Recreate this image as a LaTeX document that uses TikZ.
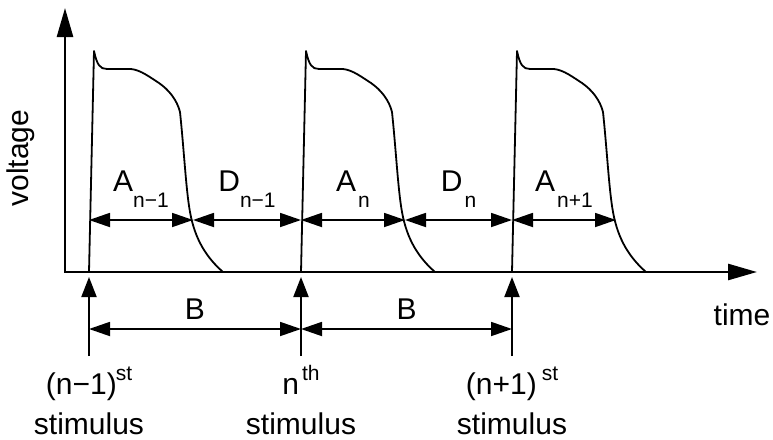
\documentclass[tikz,border=0pt]{standalone}
\usepackage{fontspec}
\setmainfont{Liberation Sans}
\usetikzlibrary{arrows.meta}

\newcommand\lowidx[1]{\raisebox{-16pt}{\fontsize{21}{21}\selectfont #1}}
\newcommand\highidx[1]{\raisebox{14pt}{\fontsize{21}{21}\selectfont #1}}

\begin{document}
\begin{tikzpicture}[
  x=1pt, y=-1pt,
  font=\fontsize{30}{35}\selectfont,
  axisline/.style={
    line width=2.6pt,
    {Triangle[length=29pt,width=16pt]}-{Triangle[length=29pt,width=16pt]}
  },
  curve/.style={line width=1.8pt, line join=round},
  span/.style={
    line width=1.8pt,
    {Triangle[length=21pt,width=14pt]}-{Triangle[length=21pt,width=14pt]}
  },
  trigger/.style={line width=2pt, -{Triangle[length=20pt,width=15pt]}}
]
  \useasboundingbox (0,0) rectangle (773,439);

  % Axes
  \coordinate (O) at (65,272);
  \coordinate (ytip) at (65,8);
  \coordinate (xtip) at (757,272);
  \draw[axisline] (ytip) -- (O) -- (xtip);
  \node[rotate=90, anchor=base] (vlab) at (28,158) {voltage};
  \node[anchor=base] (tlab) at (742,325) {time};

  % Rows used by the spans and the labels
  \coordinate (arow) at (0,220);
  \coordinate (brow) at (0,329);
  \coordinate (stip) at (0,277);
  \coordinate (sbot) at (0,356);
  \coordinate (lrow) at (0,394);
  \coordinate (wrow) at (0,434);

  % Action potentials
  \foreach \x [count=\i] in {89,301,512} {
    \coordinate (s\i) at (\x,272);
    \coordinate (e\i) at (\x+104,220);
    \draw[curve, xshift=\x pt] (0,272) -- (5,51)
      .. controls (8,65) and (11,69) .. (18,69) -- (42,69)
      .. controls (52,70) and (62,78) .. (70,83)
      .. controls (80,90) and (88,100) .. (91,112)
      .. controls (95,150) and (97,190) .. (101,212)
      .. controls (106,240) and (118,258) .. (134,272);
    \draw[trigger] (s\i |- sbot) -- (s\i |- stip);
  }

  % Durations and intervals
  \draw[span] (s1 |- arow) -- (e1)
    node[midway, anchor=base, yshift=29pt] (a1) {A\lowidx{n−1}};
  \draw[span] (e1) -- (s2 |- arow)
    node[midway, anchor=base, yshift=29pt] (d1) {D\lowidx{n−1}};
  \draw[span] (s2 |- arow) -- (e2)
    node[midway, anchor=base, yshift=29pt] (a2) {A\kern2pt\lowidx{n}};
  \draw[span] (e2) -- (s3 |- arow)
    node[midway, anchor=base, yshift=29pt] (d2) {D\kern2pt\lowidx{n}};
  \draw[span] (s3 |- arow) -- (e3)
    node[midway, anchor=base, yshift=29pt] (a3) {A\kern2pt\lowidx{n+1}};

  \draw[span] (s1 |- brow) -- (s2 |- brow)
    node[midway, anchor=base, yshift=10pt] (b1) {B};
  \draw[span] (s2 |- brow) -- (s3 |- brow)
    node[midway, anchor=base, yshift=10pt] (b2) {B};

  % Stimulus labels
  \node[anchor=base] (n1) at (s1 |- lrow) {(n−1)\kern-1pt\highidx{st}};
  \node[anchor=base] (n2) at (s2 |- lrow) {n\kern3pt\highidx{th}};
  \node[anchor=base] (n3) at (s3 |- lrow) {(n+1)\kern5pt\highidx{st}};
  \foreach \i in {1,2,3}
    \node[anchor=base] (w\i) at (s\i |- wrow) {stimulus};
\end{tikzpicture}
\end{document}
